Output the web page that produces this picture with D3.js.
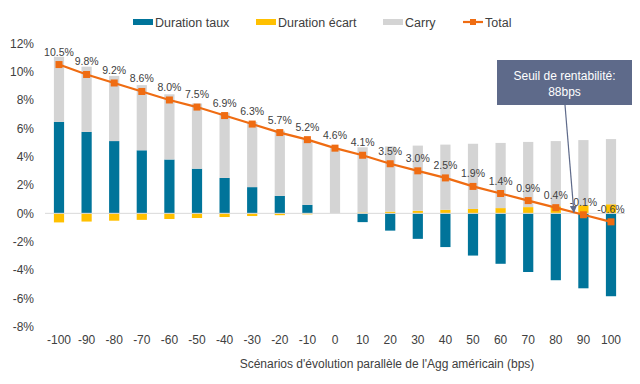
<!DOCTYPE html>
<html>
<head>
<meta charset="utf-8">
<script src="https://cdn.jsdelivr.net/npm/d3@7"></script>
<style>
  body { margin: 0; background: #fff; }
  svg { font-family: Arial, "Liberation Sans", sans-serif; }
</style>
</head>
<body>
<div id="chart"></div>
<script>
// scenarios (bps)
var scenarios = [-100, -90, -80, -70, -60, -50, -40, -30, -20, -10, 0, 10, 20, 30, 40, 50, 60, 70, 80, 90, 100];
var durationTaux = [6.45, 5.75, 5.1, 4.45, 3.8, 3.15, 2.5, 1.85, 1.23, 0.6, 0, -0.62, -1.22, -1.8, -2.38, -2.98, -3.56, -4.14, -4.72, -5.29, -5.85];
var durationEcart = [-0.64, -0.58, -0.52, -0.46, -0.4, -0.33, -0.26, -0.19, -0.13, -0.07, 0, 0.06, 0.12, 0.18, 0.25, 0.31, 0.37, 0.44, 0.5, 0.57, 0.64];
var carry = [4.6, 4.6, 4.6, 4.6, 4.6, 4.6, 4.6, 4.6, 4.6, 4.6, 4.6, 4.6, 4.6, 4.6, 4.6, 4.6, 4.6, 4.6, 4.6, 4.6, 4.6];
var total = [10.5, 9.8, 9.2, 8.6, 8.0, 7.5, 6.9, 6.3, 5.7, 5.2, 4.6, 4.1, 3.5, 3.0, 2.5, 1.9, 1.4, 0.9, 0.4, -0.1, -0.6];
var yTicks = [-8, -6, -4, -2, 0, 2, 4, 6, 8, 10, 12];
var breakEven = 88;

var colors = { taux: "#00749A", ecart: "#FFC000", carry: "#D4D4D4", total: "#EF6C12" };
var textColor = "#404040";

var width = 640, height = 384;
var svg = d3.select("#chart").append("svg")
    .attr("width", width)
    .attr("height", height);

// scales
var x = d3.scaleBand()
    .domain(scenarios)
    .range([45.2, 624.8])
    .paddingInner(0.63)
    .paddingOuter(0.315);

var y = d3.scaleLinear()
    .domain([-8, 12])
    .range([326.7, 43.3]);

// build stacked segments (positive and negative stacked separately)
var seriesList = [
    { key: "taux", values: durationTaux },
    { key: "ecart", values: durationEcart },
    { key: "carry", values: carry }
];
var segments = [];
scenarios.forEach(function(s, i) {
    var pos = 0, neg = 0;
    seriesList.forEach(function(ser) {
        var v = ser.values[i];
        if (v >= 0) {
            segments.push({ s: s, key: ser.key, y0: pos, y1: pos + v });
            pos += v;
        } else {
            segments.push({ s: s, key: ser.key, y0: neg + v, y1: neg });
            neg += v;
        }
    });
});

svg.append("g")
    .selectAll("rect")
    .data(segments)
    .enter().append("rect")
    .attr("x", function(d) { return x(d.s); })
    .attr("width", x.bandwidth())
    .attr("y", function(d) { return y(d.y1); })
    .attr("height", function(d) { return y(d.y0) - y(d.y1); })
    .attr("fill", function(d) { return colors[d.key]; });

// zero line
svg.append("line")
    .attr("x1", 45).attr("x2", 625)
    .attr("y1", y(0)).attr("y2", y(0))
    .attr("stroke", "#D9D9D9")
    .attr("stroke-width", 1);

// y axis labels
var yAxis = d3.axisLeft(y)
    .tickValues(yTicks)
    .tickSize(0)
    .tickPadding(0)
    .tickFormat(function(d) { return d + "%"; });
svg.append("g")
    .attr("transform", "translate(34,0)")
    .call(yAxis)
    .call(function(g) { g.select(".domain").remove(); })
    .selectAll("text")
    .attr("fill", textColor)
    .style("font-size", "12px")
    .style("font-family", "Arial, 'Liberation Sans', sans-serif");

// x axis labels
var xAxis = d3.axisBottom(x).tickSize(0).tickPadding(0);
svg.append("g")
    .attr("transform", "translate(0,335)")
    .call(xAxis)
    .call(function(g) { g.select(".domain").remove(); })
    .selectAll("text")
    .attr("fill", textColor)
    .style("font-size", "12px")
    .style("font-family", "Arial, 'Liberation Sans', sans-serif");

svg.append("text")
    .attr("x", 387)
    .attr("y", 368)
    .attr("text-anchor", "middle")
    .attr("fill", textColor)
    .style("font-size", "12px")
    .text("Scénarios d'évolution parallèle de l'Agg américain (bps)");

// total line
var cx = function(i) { return x(scenarios[i]) + x.bandwidth() / 2; };
var line = d3.line()
    .x(function(d, i) { return cx(i); })
    .y(function(d) { return y(d); });

svg.append("path")
    .datum(total)
    .attr("d", line)
    .attr("fill", "none")
    .attr("stroke", colors.total)
    .attr("stroke-width", 2.2);

svg.append("g")
    .selectAll("rect")
    .data(total)
    .enter().append("rect")
    .attr("x", function(d, i) { return cx(i) - 3.5; })
    .attr("y", function(d) { return y(d) - 3.5; })
    .attr("width", 7)
    .attr("height", 7)
    .attr("fill", colors.total);

// data labels
svg.append("g")
    .selectAll("text")
    .data(total)
    .enter().append("text")
    .attr("x", function(d, i) { return cx(i); })
    .attr("y", function(d) { return y(d) - 9; })
    .attr("text-anchor", "middle")
    .attr("fill", textColor)
    .style("font-size", "10.5px")
    .text(function(d) { return d.toFixed(1) + "%"; });

// annotation: break-even
var bx = x(80) + x.bandwidth() / 2 + (x(90) - x(80)) * (breakEven - 80) / 10;
svg.append("defs").append("marker")
    .attr("id", "arrow")
    .attr("viewBox", "0 0 10 10")
    .attr("refX", 9).attr("refY", 5)
    .attr("markerWidth", 6).attr("markerHeight", 6)
    .attr("orient", "auto")
    .append("path")
    .attr("d", "M0,0 L10,5 L0,10 z")
    .attr("fill", "#5E6A8A");

svg.append("line")
    .attr("x1", 565).attr("y1", 105)
    .attr("x2", bx - 4).attr("y2", y(0) - 1)
    .attr("stroke", "#5E6A8A")
    .attr("stroke-width", 1.2)
    .attr("marker-end", "url(#arrow)");

svg.append("rect")
    .attr("x", 497).attr("y", 60)
    .attr("width", 135).attr("height", 45)
    .attr("fill", "#5E6A8A");

svg.append("text")
    .attr("x", 564.5).attr("y", 80)
    .attr("text-anchor", "middle")
    .attr("fill", "#fff")
    .style("font-size", "12px")
    .text("Seuil de rentabilité:");
svg.append("text")
    .attr("x", 564.5).attr("y", 96)
    .attr("text-anchor", "middle")
    .attr("fill", "#fff")
    .style("font-size", "12px")
    .text("88bps");

// legend
var legendData = [
    { label: "Duration taux", key: "taux", x: 133 },
    { label: "Duration écart", key: "ecart", x: 256 },
    { label: "Carry", key: "carry", x: 383 },
    { label: "Total", key: "total", x: 463 }
];
var legend = svg.append("g").attr("class", "legend");
var item = legend.selectAll(".legend-item")
    .data(legendData)
    .enter().append("g")
    .attr("class", "legend-item")
    .attr("transform", function(d) { return "translate(" + d.x + ",22)"; });

item.filter(function(d) { return d.key !== "total"; })
    .append("rect")
    .attr("x", 0).attr("y", -3)
    .attr("width", 20).attr("height", 6)
    .attr("fill", function(d) { return colors[d.key]; });

var tot = item.filter(function(d) { return d.key === "total"; });
tot.append("line")
    .attr("x1", 0).attr("x2", 20)
    .attr("y1", 0).attr("y2", 0)
    .attr("stroke", colors.total)
    .attr("stroke-width", 2.2);
tot.append("rect")
    .attr("x", 7).attr("y", -3)
    .attr("width", 6).attr("height", 6)
    .attr("fill", colors.total);

item.append("text")
    .attr("x", 22)
    .attr("y", 4.5)
    .attr("fill", textColor)
    .style("font-size", "12.5px")
    .text(function(d) { return d.label; });
</script>
</body>
</html>
